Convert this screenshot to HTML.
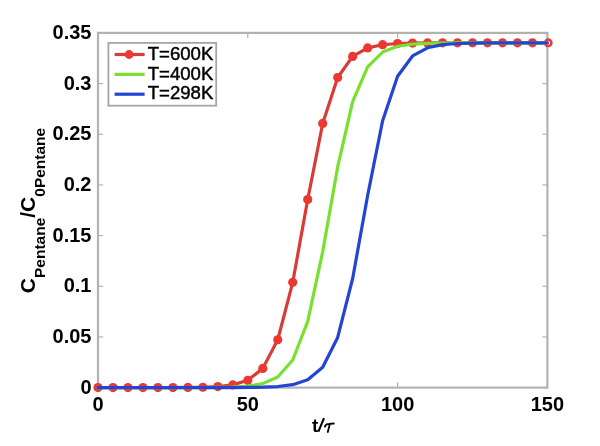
<!DOCTYPE html>
<html><head><meta charset="utf-8"><style>
html,body{margin:0;padding:0;background:#fff;width:600px;height:446px;overflow:hidden}
svg{display:block;will-change:transform}
text{font-family:"Liberation Sans",sans-serif}
</style></head><body>
<svg width="600" height="446" viewBox="0 0 600 446">
<rect x="0" y="0" width="600" height="446" fill="#fff"/>
<g>

<rect x="98.0" y="32.9" width="449.40" height="354.70" fill="none" stroke="#b2b2b2" stroke-width="2.2"/>
<line x1="98.0" y1="387.60" x2="103.0" y2="387.60" stroke="#b2b2b2" stroke-width="1.2"/>
<line x1="547.4" y1="387.60" x2="542.4" y2="387.60" stroke="#b2b2b2" stroke-width="1.2"/>
<line x1="98.0" y1="336.93" x2="103.0" y2="336.93" stroke="#b2b2b2" stroke-width="1.2"/>
<line x1="547.4" y1="336.93" x2="542.4" y2="336.93" stroke="#b2b2b2" stroke-width="1.2"/>
<line x1="98.0" y1="286.26" x2="103.0" y2="286.26" stroke="#b2b2b2" stroke-width="1.2"/>
<line x1="547.4" y1="286.26" x2="542.4" y2="286.26" stroke="#b2b2b2" stroke-width="1.2"/>
<line x1="98.0" y1="235.59" x2="103.0" y2="235.59" stroke="#b2b2b2" stroke-width="1.2"/>
<line x1="547.4" y1="235.59" x2="542.4" y2="235.59" stroke="#b2b2b2" stroke-width="1.2"/>
<line x1="98.0" y1="184.91" x2="103.0" y2="184.91" stroke="#b2b2b2" stroke-width="1.2"/>
<line x1="547.4" y1="184.91" x2="542.4" y2="184.91" stroke="#b2b2b2" stroke-width="1.2"/>
<line x1="98.0" y1="134.24" x2="103.0" y2="134.24" stroke="#b2b2b2" stroke-width="1.2"/>
<line x1="547.4" y1="134.24" x2="542.4" y2="134.24" stroke="#b2b2b2" stroke-width="1.2"/>
<line x1="98.0" y1="83.57" x2="103.0" y2="83.57" stroke="#b2b2b2" stroke-width="1.2"/>
<line x1="547.4" y1="83.57" x2="542.4" y2="83.57" stroke="#b2b2b2" stroke-width="1.2"/>
<line x1="98.0" y1="32.90" x2="103.0" y2="32.90" stroke="#b2b2b2" stroke-width="1.2"/>
<line x1="547.4" y1="32.90" x2="542.4" y2="32.90" stroke="#b2b2b2" stroke-width="1.2"/>
<line x1="98.00" y1="387.6" x2="98.00" y2="382.6" stroke="#b2b2b2" stroke-width="1.2"/>
<line x1="98.00" y1="32.9" x2="98.00" y2="37.9" stroke="#b2b2b2" stroke-width="1.2"/>
<line x1="247.80" y1="387.6" x2="247.80" y2="382.6" stroke="#b2b2b2" stroke-width="1.2"/>
<line x1="247.80" y1="32.9" x2="247.80" y2="37.9" stroke="#b2b2b2" stroke-width="1.2"/>
<line x1="397.60" y1="387.6" x2="397.60" y2="382.6" stroke="#b2b2b2" stroke-width="1.2"/>
<line x1="397.60" y1="32.9" x2="397.60" y2="37.9" stroke="#b2b2b2" stroke-width="1.2"/>
<line x1="547.40" y1="387.6" x2="547.40" y2="382.6" stroke="#b2b2b2" stroke-width="1.2"/>
<line x1="547.40" y1="32.9" x2="547.40" y2="37.9" stroke="#b2b2b2" stroke-width="1.2"/>
<text x="91.5" y="393.80" font-size="20" font-weight="bold" text-anchor="end" fill="#000">0</text>
<text x="91.5" y="343.13" font-size="20" font-weight="bold" text-anchor="end" fill="#000">0.05</text>
<text x="91.5" y="292.46" font-size="20" font-weight="bold" text-anchor="end" fill="#000">0.1</text>
<text x="91.5" y="241.79" font-size="20" font-weight="bold" text-anchor="end" fill="#000">0.15</text>
<text x="91.5" y="191.11" font-size="20" font-weight="bold" text-anchor="end" fill="#000">0.2</text>
<text x="91.5" y="140.44" font-size="20" font-weight="bold" text-anchor="end" fill="#000">0.25</text>
<text x="91.5" y="89.77" font-size="20" font-weight="bold" text-anchor="end" fill="#000">0.3</text>
<text x="91.5" y="39.10" font-size="20" font-weight="bold" text-anchor="end" fill="#000">0.35</text>
<text x="98.00" y="411" font-size="20" font-weight="bold" text-anchor="middle" fill="#000">0</text>
<text x="247.80" y="411" font-size="20" font-weight="bold" text-anchor="middle" fill="#000">50</text>
<text x="397.60" y="411" font-size="20" font-weight="bold" text-anchor="middle" fill="#000">100</text>
<text x="547.40" y="411" font-size="20" font-weight="bold" text-anchor="middle" fill="#000">150</text>
<polyline points="98.00,387.60 112.98,387.60 127.96,387.60 142.94,387.59 157.92,387.58 172.90,387.55 187.88,387.47 202.86,387.23 217.84,386.60 232.82,384.89 247.80,380.30 262.78,368.38 277.76,339.75 292.74,282.28 307.72,199.51 322.70,123.45 337.68,77.51 352.66,56.40 367.64,47.93 382.62,44.72 397.60,43.53 412.58,43.09 427.56,42.92 442.54,42.87 457.52,42.84 472.50,42.84 487.48,42.83 502.46,42.83 517.44,42.83 532.42,42.83 547.40,42.83" fill="none" stroke="#d83c36" stroke-width="3.2" stroke-linejoin="round" stroke-linecap="round"/>
<circle cx="98.00" cy="387.60" r="4.6" fill="#ec3830"/>
<circle cx="112.98" cy="387.60" r="4.6" fill="#ec3830"/>
<circle cx="127.96" cy="387.60" r="4.6" fill="#ec3830"/>
<circle cx="142.94" cy="387.59" r="4.6" fill="#ec3830"/>
<circle cx="157.92" cy="387.58" r="4.6" fill="#ec3830"/>
<circle cx="172.90" cy="387.55" r="4.6" fill="#ec3830"/>
<circle cx="187.88" cy="387.47" r="4.6" fill="#ec3830"/>
<circle cx="202.86" cy="387.23" r="4.6" fill="#ec3830"/>
<circle cx="217.84" cy="386.60" r="4.6" fill="#ec3830"/>
<circle cx="232.82" cy="384.89" r="4.6" fill="#ec3830"/>
<circle cx="247.80" cy="380.30" r="4.6" fill="#ec3830"/>
<circle cx="262.78" cy="368.38" r="4.6" fill="#ec3830"/>
<circle cx="277.76" cy="339.75" r="4.6" fill="#ec3830"/>
<circle cx="292.74" cy="282.28" r="4.6" fill="#ec3830"/>
<circle cx="307.72" cy="199.51" r="4.6" fill="#ec3830"/>
<circle cx="322.70" cy="123.45" r="4.6" fill="#ec3830"/>
<circle cx="337.68" cy="77.51" r="4.6" fill="#ec3830"/>
<circle cx="352.66" cy="56.40" r="4.6" fill="#ec3830"/>
<circle cx="367.64" cy="47.93" r="4.6" fill="#ec3830"/>
<circle cx="382.62" cy="44.72" r="4.6" fill="#ec3830"/>
<circle cx="397.60" cy="43.53" r="4.6" fill="#ec3830"/>
<circle cx="412.58" cy="43.09" r="4.6" fill="#ec3830"/>
<circle cx="427.56" cy="42.92" r="4.6" fill="#ec3830"/>
<circle cx="442.54" cy="42.87" r="4.6" fill="#ec3830"/>
<circle cx="457.52" cy="42.84" r="4.6" fill="#ec3830"/>
<circle cx="472.50" cy="42.84" r="4.6" fill="#ec3830"/>
<circle cx="487.48" cy="42.83" r="4.6" fill="#ec3830"/>
<circle cx="502.46" cy="42.83" r="4.6" fill="#ec3830"/>
<circle cx="517.44" cy="42.83" r="4.6" fill="#ec3830"/>
<circle cx="532.42" cy="42.83" r="4.6" fill="#ec3830"/>
<circle cx="548.20" cy="42.83" r="3.2" fill="#fff" stroke="#ec3830" stroke-width="2.6"/>
<polyline points="98.00,387.60 112.98,387.60 127.96,387.60 142.94,387.60 157.92,387.60 172.90,387.59 187.88,387.57 202.86,387.53 217.84,387.40 232.82,387.06 247.80,386.14 262.78,383.64 277.76,376.98 292.74,360.03 307.72,321.38 322.70,251.77 337.68,166.94 352.66,101.64 367.64,66.95 382.62,52.06 397.60,46.26 412.58,44.09 427.56,43.29 442.54,43.00 457.52,42.89 472.50,42.85 487.48,42.84 502.46,42.83 517.44,42.83 532.42,42.83 547.40,42.83" fill="none" stroke="#78e030" stroke-width="3.2" stroke-linejoin="round" stroke-linecap="round"/>
<polyline points="98.00,387.60 112.98,387.60 127.96,387.60 142.94,387.60 157.92,387.60 172.90,387.60 187.88,387.60 202.86,387.59 217.84,387.58 232.82,387.55 247.80,387.45 262.78,387.20 277.76,386.53 292.74,384.70 307.72,379.83 322.70,367.27 337.68,337.42 352.66,278.49 367.64,195.48 382.62,120.81 397.60,76.30 412.58,55.95 427.56,47.78 442.54,44.67 457.52,43.51 472.50,43.08 487.48,42.92 502.46,42.87 517.44,42.84 532.42,42.84 547.40,42.83" fill="none" stroke="#2444d4" stroke-width="3.2" stroke-linejoin="round" stroke-linecap="round"/>
<rect x="108.4" y="42.9" width="107.8" height="62.8" fill="#fff" stroke="#a6a6a6" stroke-width="1.8"/>
<line x1="114.6" y1="54.50" x2="144.6" y2="54.50" stroke="#d83c36" stroke-width="3.2"/>
<circle cx="129.1" cy="54.50" r="4.4" fill="#ec3830"/>
<text x="147.7" y="60.00" font-size="18.6" fill="#000" stroke="#000" stroke-width="0.45">T=600K</text>
<line x1="114.6" y1="74.35" x2="144.6" y2="74.35" stroke="#78e030" stroke-width="3.2"/>
<text x="147.7" y="79.55" font-size="18.6" fill="#000" stroke="#000" stroke-width="0.45">T=400K</text>
<line x1="114.6" y1="94.20" x2="144.6" y2="94.20" stroke="#2444d4" stroke-width="3.2"/>
<text x="147.7" y="99.10" font-size="18.6" fill="#000" stroke="#000" stroke-width="0.45">T=298K</text>
<text x="312.0" y="432" font-size="19" font-weight="bold" fill="#000">t</text>
<path d="M318.4,431.6 L324.0,418.2" fill="none" stroke="#000" stroke-width="2.1"/>
<path d="M324.9,426.6 Q325.9,423.9 329.0,423.9 L333.8,423.5 M329.8,424.0 L327.8,432.0" fill="none" stroke="#000" stroke-width="1.8" stroke-linecap="round"/>
<g transform="translate(35.4,210.5) rotate(-90)"><text x="0" y="0" text-anchor="middle" font-size="21" font-weight="bold" fill="#000">C<tspan font-size="15.5" dy="9.6">Pentane</tspan><tspan dy="-9.6">/C</tspan><tspan font-size="15.5" dy="9.6">0Pentane</tspan></text></g>
</g></svg></body></html>
